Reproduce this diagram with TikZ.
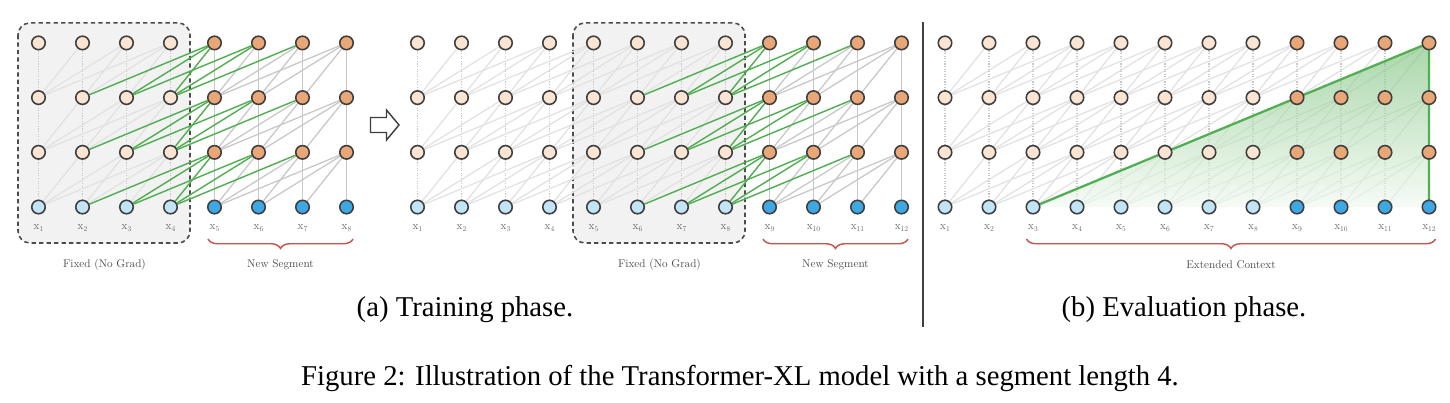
\documentclass[tikz,border=0pt]{standalone}
\usepackage{fontspec}
\newfontfamily\capfont{Liberation Serif}
\newfontfamily\notefont{lmroman10-regular}[Extension=.otf]
\usepackage{tikz}
\usetikzlibrary{calc, decorations.pathreplacing}

\definecolor{oldfill}{RGB}{252,228,210}
\definecolor{newfill}{RGB}{233,167,119}
\definecolor{oldin}{RGB}{194,228,247}
\definecolor{newin}{RGB}{62,168,228}
\definecolor{rim}{RGB}{62,62,62}
\definecolor{edgegray}{RGB}{200,200,200}
\definecolor{fadegray}{RGB}{226,226,226}
\definecolor{attn}{RGB}{82,174,82}
\definecolor{bracered}{RGB}{198,84,78}
\definecolor{boxgray}{RGB}{242,242,242}

\pgfdeclarelayer{boxes}
\pgfdeclarelayer{front}
\pgfsetlayers{boxes,main,front}

\newcommand{\tokname}[1]{x\raisebox{-0.6pt}{\fontsize{2.6}{3}\selectfont #1}}

\tikzset{
  unit/.style={circle, draw=rim, line width=0.55pt, minimum size=4.7pt, inner sep=0pt},
  oldh/.style={unit, fill=oldfill},
  newh/.style={unit, fill=newfill},
  oldx/.style={unit, fill=oldin},
  newx/.style={unit, fill=newin},
  fadeedge/.style={draw=fadegray, line width=0.45pt},
  grayedge/.style={draw=edgegray, line width=0.45pt},
  greenedge/.style={draw=attn, line width=0.5pt},
  fadevert/.style={draw=black!22, line width=0.4pt, dash pattern=on 0.4pt off 0.5pt},
  solidvert/.style={draw=edgegray, line width=0.6pt},
  tok/.style={font=\notefont\fontsize{3.9}{4.5}\selectfont, text=black!60},
  note/.style={font=\notefont\fontsize{3.9}{4.5}\selectfont, text=black!70},
  fixbox/.style={draw=black!70, fill=boxgray, line width=0.55pt, dash pattern=on 1.5pt off 1.1pt, rounded corners=4.2pt},
  segbrace/.style={decorate, decoration={brace, mirror, amplitude=3.3pt}, draw=bracered, line width=0.5pt},
  capt/.style={font=\capfont\fontsize{10}{12}\selectfont}
}

\begin{document}
\begin{tikzpicture}[x=0.3484pt,y=-0.3484pt]
  \def\dx{44}    % column spacing
  \def\dy{54.7}  % layer spacing
  \def\yb{207}   % row of inputs
  \useasboundingbox (0,0) rectangle (1450,402);

  % ---------- units ----------
  \begin{pgfonlayer}{front}
  \foreach \p/\xo/\n/\s in {a/38.5/8/4, b/417.5/12/8, c/945/12/8}{
    \foreach \i in {1,...,\n}{
      \ifnum\i>\s \def\hs{newh}\def\xs{newx}\else\def\hs{oldh}\def\xs{oldx}\fi
      \node[\xs] (\p-\i-0) at ({\xo+\dx*(\i-1)},\yb) {};
      \foreach \l in {1,2,3}
        \node[\hs] (\p-\i-\l) at ({\xo+\dx*(\i-1)},{\yb-\dy*\l}) {};
      \node[tok] (\p-t\i) at ({\xo+\dx*(\i-1)},228) {\tokname{\i}};
    }
  }
  \end{pgfonlayer}

  % ---------- connections (gray first, green on top) ----------
  \foreach \hot in {0,1}{
  \foreach \p/\n/\s/\g in {a/8/4/1, b/12/8/1, c/12/8/0}{
    \foreach \i in {1,...,\n}{
      \foreach \l in {1,2,3}{
        \pgfmathtruncatemacro\lo{\l-1}
        \foreach \k in {0,...,3}{
          \pgfmathtruncatemacro\j{\i-\k}
          % -1 none, 0 faded, 1 gray, 2 green
          \pgfmathtruncatemacro\kind{\j<1 ? -1 : ((\i>\s && \g==1) ? (\j>\s ? 1 : 2) : 0)}
          \def\es{}
          \ifnum\hot=0
            \ifnum\kind=0 \ifnum\k=0 \def\es{fadevert}\else\def\es{fadeedge}\fi\fi
            \ifnum\kind=1 \ifnum\k=0 \def\es{solidvert}\else\def\es{grayedge}\fi\fi
          \else
            \ifnum\kind=2 \def\es{greenedge}\fi
          \fi
          \ifx\es\empty\else \draw[\es] (\p-\i-\l) -- (\p-\j-\lo); \fi
        }
      }
    }
  }}

  % ---------- extended context ----------
  \shade[top color=attn!75, bottom color=attn!8, fill opacity=0.65]
    (c-3-0.center) -- (c-12-3.center) -- (c-12-0.center) -- cycle;
  \draw[attn, line width=0.8pt] (c-3-0.center) -- (c-12-3.center) -- (c-12-0.center);

  % ---------- fixed boxes ----------
  \begin{pgfonlayer}{boxes}
    \draw[fixbox] ($(a-1-3)+(-20.5,-20)$) rectangle ($(a-4-0)+(19.5,36)$);
    \draw[fixbox] ($(b-5-3)+(-20.5,-20)$) rectangle ($(b-8-0)+(19.5,36)$);
  \end{pgfonlayer}

  % ---------- braces and notes ----------
  \draw[segbrace] ($(a-5-0)+(-6.5,32)$) -- ($(a-8-0)+(6.5,32)$);
  \draw[segbrace] ($(b-9-0)+(-6.5,32)$) -- ($(b-12-0)+(6.5,32)$);
  \draw[segbrace] ($(c-3-0)+(-6.5,32)$) -- ($(c-12-0)+(6.5,32)$);
  \node[note] (a-fix) at ($(a-1-0)!0.5!(a-4-0)+(0,58)$) {Fixed (No Grad)};
  \node[note] (a-new) at ($(a-5-0)!0.5!(a-8-0)+(0,58)$) {New Segment};
  \node[note] (b-fix) at ($(b-5-0)!0.5!(b-8-0)+(0,58)$) {Fixed (No Grad)};
  \node[note] (b-new) at ($(b-9-0)!0.5!(b-12-0)+(0,58)$) {New Segment};
  \node[note] (c-ext) at ($(c-3-0)!0.5!(c-12-0)+(0,58)$) {Extended Context};

  % hollow arrow between the two training steps
  \draw[draw=rim, fill=white, line width=0.5pt, line join=miter]
    (370.5,117.5) -- (386.5,117.5) -- (386.5,110) -- (399,125) -- (386.5,140)
    -- (386.5,132.5) -- (370.5,132.5) -- cycle;

  % separator and captions
  \draw[black!75, line width=0.5pt] (923,22) -- (923,327);
  \node[capt] (cap-a) at (465,310) {(a) Training phase.};
  \node[capt] (cap-b) at (1184,310) {(b) Evaluation phase.};
  \node[capt] (cap) at (740,378) {Figure 2: Illustration of the Transformer-XL model with a segment length 4.};
\end{tikzpicture}
\end{document}
